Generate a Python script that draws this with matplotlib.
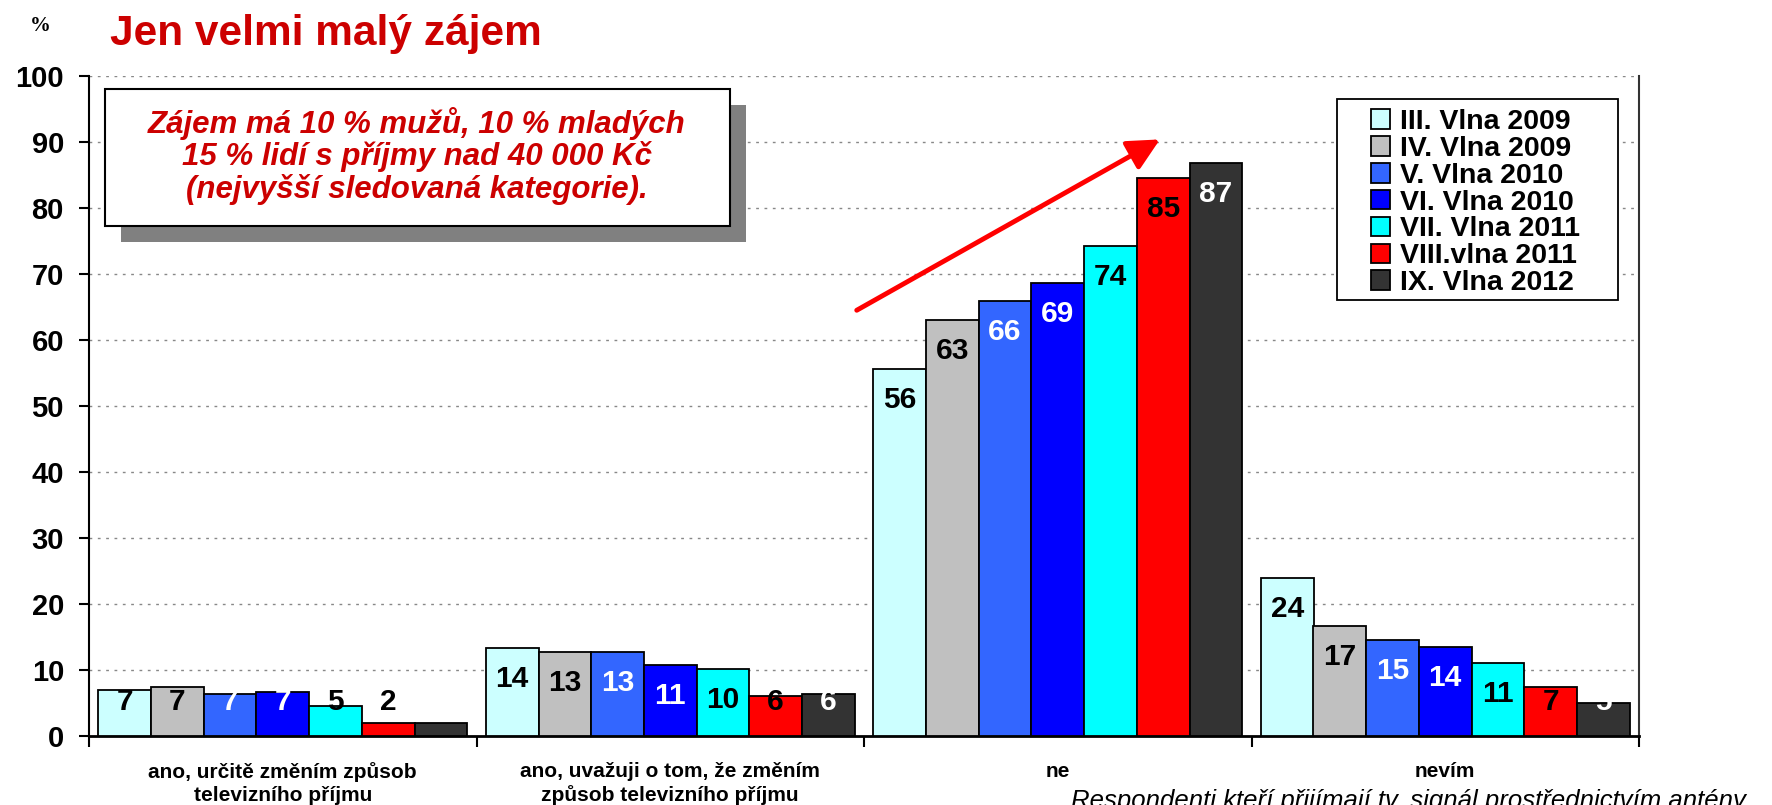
import matplotlib.pyplot as plt
import numpy as np
from matplotlib.patches import Rectangle, FancyArrowPatch

plt.rcParams['font.family'] = ['Liberation Sans', 'DejaVu Sans']

# data
categories = ['ano, určitě změním způsob\ntelevizního příjmu',
              'ano, uvažuji o tom, že změním\nzpůsob televizního příjmu',
              'ne', 'nevím']
series_names = ['III. Vlna 2009', 'IV. Vlna 2009', 'V. Vlna 2010', 'VI. Vlna 2010',
                'VII. Vlna 2011', 'VIII.vlna 2011', 'IX. Vlna 2012']
vlna3 = [6.9, 13.4, 55.6, 24.0]
vlna4 = [7.4, 12.8, 63.0, 16.6]
vlna5 = [6.4, 12.8, 65.9, 14.6]
vlna6 = [6.7, 10.8, 68.6, 13.5]
vlna7 = [4.5, 10.1, 74.3, 11.0]
vlna8 = [1.9, 6.0, 84.5, 7.4]
vlna9 = [1.9, 6.3, 86.8, 5.0]
labels3 = [7, 14, 56, 24]
labels4 = [7, 13, 63, 17]
labels5 = [7, 13, 66, 15]
labels6 = [7, 11, 69, 14]
labels7 = [5, 10, 74, 11]
labels8 = [2, 6, 85, 7]
labels9 = [2, 6, 87, 5]

series = [vlna3, vlna4, vlna5, vlna6, vlna7, vlna8, vlna9]
series_labels = [labels3, labels4, labels5, labels6, labels7, labels8, labels9]
colors = ['#CCFFFF', '#C0C0C0', '#3366FF', '#0000FF', '#00FFFF', '#FF0000', '#333333']
label_colors = ['black', 'black', 'white', 'white', 'black', 'black', 'white']

W, H = 1772, 805
fig = plt.figure(figsize=(W / 100, H / 100), dpi=100)
ax = fig.add_axes([89 / W, 1 - 736 / H, 1550 / W, 660 / H])

x = np.arange(len(categories))
bw = 0.136
for i, vals in enumerate(series):
    pos = x + (i - 3) * bw
    ax.bar(pos, vals, bw, color=colors[i], edgecolor='black', linewidth=1.3,
           label=series_names[i], zorder=3)
    for p, v, lab in zip(pos, vals, series_labels[i]):
        ax.text(p, max(v - 4.7, 5.1), str(lab), ha='center', va='center',
                fontsize=21.5, fontweight='bold', color=label_colors[i], zorder=4)

ax.set_xlim(-0.5, 3.5)
ax.set_ylim(0, 100)
ax.set_yticks(range(0, 101, 10))
ax.tick_params(axis='y', labelsize=21, width=1.5, length=7, pad=11)
for t in ax.get_yticklabels():
    t.set_fontweight('bold')
for yv in range(10, 101, 10):
    ax.axhline(yv, color='#888888', linestyle=(0, (2, 4)), linewidth=1, zorder=1)

ax.set_xticks(x)
ax.set_xticklabels(categories, fontsize=15, fontweight='bold', linespacing=1.25)
ax.tick_params(axis='x', length=0, pad=19)
ax.set_xticks(np.arange(-0.5, 3.6, 1), minor=True)
ax.tick_params(axis='x', which='minor', length=8, width=1.5)

ax.spines['top'].set_visible(False)
ax.spines['left'].set_linewidth(1.5)
ax.spines['bottom'].set_linewidth(2)
ax.spines['right'].set_linewidth(1.5)
ax.spines['right'].set_color('#333333')

# sipka
arrow = FancyArrowPatch((1.475, 64.3), (2.27, 90.6), arrowstyle='-|>,head_length=12,head_width=6',
                        mutation_scale=1.6, color='#FF0000', linewidth=3.5, zorder=5)
ax.add_patch(arrow)

# legenda - ramecek zvlast, protoze ma vetsi okraje do stran
ax.add_patch(Rectangle((1337 / W, 1 - 300 / H), 281 / W, 201 / H,
                       transform=fig.transFigure, facecolor='white', clip_on=False,
                       edgecolor='black', linewidth=1.3, zorder=6))
leg = ax.legend(loc='upper left', bbox_to_anchor=(1371 / W, 1 - 109 / H),
                bbox_transform=fig.transFigure, frameon=False,
                prop={'weight': 'bold', 'size': 20.5},
                handlelength=0.68, handleheight=0.68, handletextpad=0.35,
                labelspacing=0.03, borderpad=0, borderaxespad=0)
leg.set_zorder(7)

# textovy ramecek se stinem
fig.patches.append(Rectangle((121 / W, 1 - 242 / H), 625 / W, 137 / H,
                             transform=fig.transFigure, facecolor='#808080',
                             edgecolor='none', zorder=6))
fig.patches.append(Rectangle((105 / W, 1 - 226 / H), 625 / W, 137 / H,
                             transform=fig.transFigure, facecolor='white',
                             edgecolor='black', linewidth=1.5, zorder=7))
fig.text(417 / W, 1 - 156 / H,
         'Zájem má 10 % mužů, 10 % mladých\n15 % lidí s příjmy nad 40 000 Kč\n(nejvyšší sledovaná kategorie).',
         ha='center', va='center', fontsize=22.5, fontweight='bold', style='italic',
         color='#CC0000', linespacing=1.08, zorder=8)

fig.text(110 / W, 1 - 45 / H, 'Jen velmi malý zájem', fontsize=30.5, fontweight='bold',
         color='#CC0000', ha='left', va='baseline')
fig.text(40 / W, 1 - 26 / H, '%', fontsize=15, fontweight='bold', family='Liberation Serif',
         ha='center', va='center')
fig.text(1071 / W, 1 - 789 / H, 'Respondenti kteří přijímají tv. signál prostřednictvím antény',
         fontsize=18.5, style='italic', ha='left', va='top')

fig.savefig('out.png', dpi=100)
